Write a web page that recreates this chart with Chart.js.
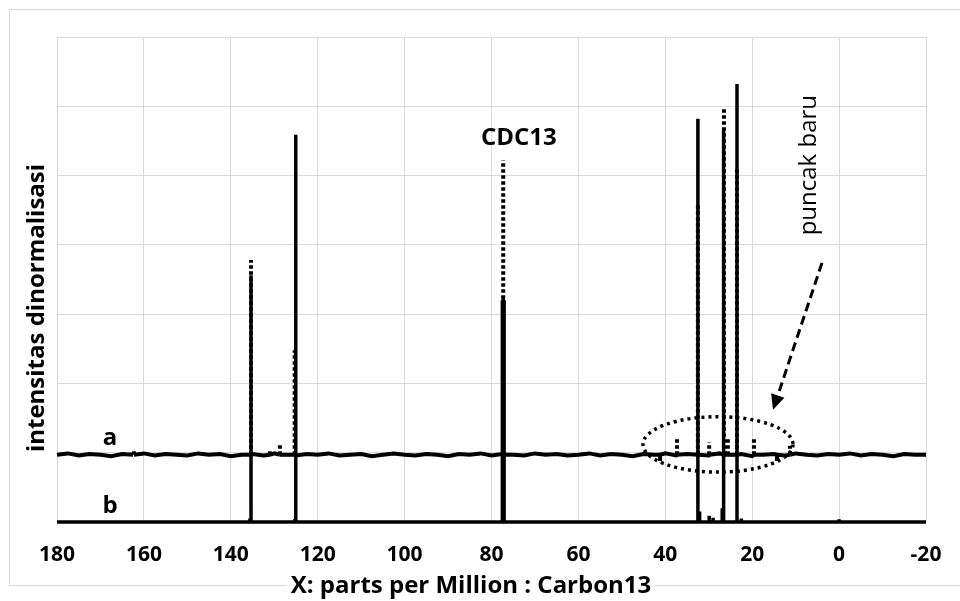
<!DOCTYPE html>
<html>
<head>
<meta charset="utf-8">
<script src="https://cdn.jsdelivr.net/npm/chart.js@4"></script>
<style>
  html, body { margin: 0; padding: 0; background: #fff; }
</style>
</head>
<body>
<canvas id="nmr" width="960" height="601"></canvas>
<script>
// x axis ticks (ppm, axis runs high -> low)
const xTicks = [180, 160, 140, 120, 100, 80, 60, 40, 20, 0, -20];
const yGrid = [0, 1, 2, 3, 4, 5, 6, 7];

// spectrum b (lower trace): flat baseline + peaks
const bBasePpm = [180, -20];
const bBaseInt = [0, 0];
const bPeakPpm = [135.6, 135.35, 125.3, 125.05, 77.5, 77.3, 77.1, 32.5, 32.1, 29.9, 29.0, 26.9, 26.7, 26.5, 23.5, 22.5, 0];
const bPeakTop = [0.05, 3.56, 0.04, 5.59, 3.2, 3.25, 3.2, 5.82, 0.15, 0.09, 0.06, 0.2, 0.2, 5.66, 6.32, 0.05, 0.04];

// spectrum a (upper trace, offset up): noisy baseline + peaks
const aBasePpm = [180, 177.5, 175, 172.5, 170, 167.5, 165, 162.5, 160, 157.5,
  155, 152.5, 150, 147.5, 145, 142.5, 140, 137.5, 135, 132.5,
  130, 127.5, 125, 122.5, 120, 117.5, 115, 112.5, 110, 107.5,
  105, 102.5, 100, 97.5, 95, 92.5, 90, 87.5, 85, 82.5,
  80, 77.5, 75, 72.5, 70, 67.5, 65, 62.5, 60, 57.5,
  55, 52.5, 50, 47.5, 45, 42.5, 40, 37.5, 35, 32.5,
  30, 27.5, 25, 22.5, 20, 17.5, 15, 12.5, 10, 7.5,
  5, 2.5, 0, -2.5, -5, -7.5, -10, -12.5, -15, -17.5, -20];
const aBaseInt = [0.97, 0.99, 0.96, 0.98, 0.97, 0.95, 0.98, 0.97, 0.99, 0.96,
  0.98, 0.97, 0.96, 0.99, 0.97, 0.98, 0.95, 0.97, 0.98, 0.96,
  0.99, 0.97, 0.96, 0.98, 0.97, 0.99, 0.96, 0.97, 0.98, 0.95,
  0.97, 0.99, 0.97, 0.96, 0.98, 0.97, 0.95, 0.98, 0.97, 0.99,
  0.96, 0.98, 0.97, 0.96, 0.99, 0.97, 0.98, 0.96, 0.97, 0.99,
  0.96, 0.98, 0.97, 0.95, 0.98, 0.97, 0.99, 0.96, 0.98, 0.97,
  0.96, 0.99, 0.97, 0.98, 0.95, 0.97, 0.98, 0.96, 0.99, 0.97,
  0.96, 0.98, 0.97, 0.99, 0.96, 0.98, 0.97, 0.95, 0.98, 0.97, 0.97];
const aPeakPpm = [162.3, 135.35, 131, 128.7, 125.3, 77.3, 41.2, 37.3, 32.5, 29.9, 26.5, 25.6, 23.5, 19.6, 14.3, 11.3];
const aPeakTop = [1.05, 3.78, 1.05, 1.12, 2.48, 5.22, 0.88, 1.21, 4.6, 1.15, 5.97, 1.2, 5.1, 1.2, 0.88, 1.1];

// baseline points + a vertical spike (level -> top -> level) per peak, in ppm order
function trace(basePpm, baseInt, peakPpm, peakTop, level) {
  const pts = basePpm.map((x, i) => ({ x: x, y: baseInt[i] }));
  peakPpm.forEach((x, i) => pts.push({ x: x, y: level }, { x: x, y: peakTop[i] }, { x: x, y: level }));
  return pts.sort((p, q) => q.x - p.x);
}

const frame = {
  id: "frame",
  beforeDraw(chart) {
    const c = chart.ctx;
    c.save();
    c.fillStyle = "#fff";
    c.fillRect(0, 0, chart.width, chart.height);
    c.strokeStyle = "#d9d9d9";
    c.lineWidth = 1;
    c.strokeRect(9.5, 9.5, 960, 576);
    c.restore();
  }
};

const notes = {
  id: "notes",
  afterDraw(chart) {
    const c = chart.ctx;
    const sx = chart.scales.x, sy = chart.scales.y;
    const px = v => sx.getPixelForValue(v), py = v => sy.getPixelForValue(v);
    c.save();
    c.fillStyle = "#000";
    c.strokeStyle = "#000";
    c.textAlign = "center";
    c.textBaseline = "alphabetic";

    c.font = "bold 24px 'Open Sans'";
    c.fillText("CDC13", px(73.7), py(5.44));
    c.fillText("a", px(167.8), py(1.11));
    c.fillText("b", px(167.8), py(0.13));

    c.save();
    c.translate(px(5.33), py(5.15));
    c.rotate(-Math.PI / 2);
    c.font = "24px 'Open Sans'";
    c.fillText("puncak baru", 0, 0);
    c.restore();

    // dotted ellipse round the new peaks
    const ex = px(27.87), ey = py(1.12);
    c.save();
    c.lineWidth = 3.5;
    c.setLineDash([3, 4]);
    c.beginPath();
    c.ellipse(ex, ey, Math.abs(px(27.87 - 17.26) - ex), Math.abs(py(1.12 + 0.4) - ey), 0, 0, Math.PI * 2);
    c.stroke();
    c.restore();

    // dashed arrow
    const x0 = px(3.94), y0 = py(3.74), x1 = px(15.21), y1 = py(1.62);
    const len = Math.hypot(x1 - x0, y1 - y0);
    const ux = (x1 - x0) / len, uy = (y1 - y0) / len;
    const bx = x1 - ux * 15, by = y1 - uy * 15;
    c.save();
    c.lineWidth = 3;
    c.setLineDash([9, 5]);
    c.beginPath();
    c.moveTo(x0, y0);
    c.lineTo(bx, by);
    c.stroke();
    c.setLineDash([]);
    c.beginPath();
    c.moveTo(x1, y1);
    c.lineTo(bx - uy * 7, by + ux * 7);
    c.lineTo(bx + uy * 7, by - ux * 7);
    c.closePath();
    c.fill();
    c.restore();

    // axis titles
    c.font = "bold 24px 'Open Sans'";
    const t = "X: parts per Million : Carbon13";
    const w = c.measureText(t).width;
    c.fillStyle = "#fff";
    c.fillRect(471 - w / 2 - 4, 570, w + 8, 31);
    c.fillStyle = "#000";
    c.fillText(t, 471, 593);
    c.save();
    c.translate(44, 308);
    c.rotate(-Math.PI / 2);
    c.fillText("intensitas dinormalisasi", 0, 0);
    c.restore();
    c.restore();
  }
};

new Chart(document.getElementById("nmr"), {
  type: "scatter",
  data: {
    datasets: [
      {
        label: "b",
        data: trace(bBasePpm, bBaseInt, bPeakPpm, bPeakTop, 0),
        showLine: true,
        borderColor: "#000",
        borderWidth: 3.5,
        pointRadius: 0,
        tension: 0,
        clip: 6
      },
      {
        label: "a",
        data: trace(aBasePpm, aBaseInt, aPeakPpm, aPeakTop, 0.97),
        showLine: true,
        borderColor: "#000",
        borderWidth: 4,
        pointRadius: 0,
        tension: 0,
        clip: 6,
        segment: {
          borderDash: ctx => ctx.p0.parsed.x === ctx.p1.parsed.x ? [3.5, 2.5] : undefined,
          borderColor: ctx => (ctx.p0.parsed.x === ctx.p1.parsed.x && ctx.p1.parsed.y < ctx.p0.parsed.y && ctx.p0.parsed.y > 1) ? "rgba(0,0,0,0)" : undefined
        }
      }
    ]
  },
  options: {
    responsive: false,
    animation: false,
    layout: { padding: { top: 37, right: 34, bottom: 0, left: 0 } },
    plugins: { legend: { display: false }, tooltip: { enabled: false } },
    scales: {
      x: {
        type: "linear",
        reverse: true,
        min: -20,
        max: 180,
        afterBuildTicks: s => { s.ticks = xTicks.map(v => ({ value: v })); },
        afterFit: s => { s.height = 79; },
        ticks: { color: "#000", padding: 5, font: { family: "'Open Sans'", size: 21, weight: "bold", lineHeight: 2.7 } },
        grid: { color: "#d9d9d9", drawTicks: false },
        border: { display: false }
      },
      y: {
        min: 0,
        max: 7,
        afterBuildTicks: s => { s.ticks = yGrid.map(v => ({ value: v })); },
        afterFit: s => { s.width = 57; },
        ticks: { display: false },
        grid: { color: "#d9d9d9", drawTicks: false },
        border: { display: false }
      }
    }
  },
  plugins: [frame, notes]
});
</script>
</body>
</html>
